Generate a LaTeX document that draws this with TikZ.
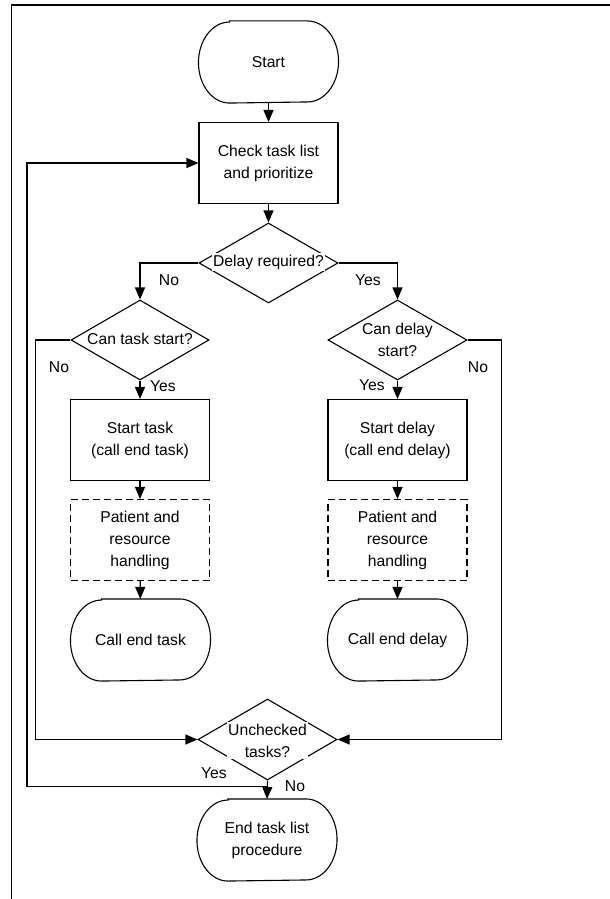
\documentclass[tikz,border=0pt]{standalone}
\usepackage{fontspec}
\setmainfont{Liberation Sans}
\usetikzlibrary{shapes.geometric,arrows.meta}
% outline of a terminal node: straight top and bottom, half-ellipse ends
\newcommand\termoutline[1]{%
  \draw[outline] ([xshift=31pt]#1.north west) -- ([xshift=-31pt]#1.north east)
    arc[start angle=90, end angle=-90, x radius=31pt, y radius=40.5pt]
    -- ([xshift=31pt]#1.south west)
    arc[start angle=270, end angle=90, x radius=31pt, y radius=40.5pt] -- cycle;}
\begin{document}
\begin{tikzpicture}[x=1pt,y=-1pt,
  every node/.style={font=\fontsize{15.7}{22}\selectfont},
  outline/.style={line width=1.1pt},
  base/.style={outline, minimum width=139pt, minimum height=81pt, inner sep=0pt, align=center},
  procbox/.style={base, draw, rectangle},
  dashbox/.style={base, draw, rectangle, dash pattern=on 7pt off 4pt},
  termbox/.style={base, rectangle},
  decbox/.style={draw, diamond, outline, minimum width=139pt, minimum height=80pt, inner sep=0pt},
  dectext/.style={fill=white, inner sep=1.5pt, align=center},
  lbl/.style={inner sep=0pt},
  arr/.style={line width=1.1pt, -{Triangle[length=12pt,width=10pt]}},
  frame/.style={line width=1.6pt}
]
\useasboundingbox (0,0) rectangle (610,899);

% outer frame (top and left edges only)
\draw[frame] (11.5,899) -- (11.5,5) -- (610,5);

% main column
\node[termbox] (start) at (268.5,62) {Start};
\termoutline{start}
\node[procbox] (check) at (268.5,163) {Check task list\\and prioritize};
\node[decbox] (delay) at (268.5,263) {};
\node[dectext] (delaytxt) at (268.5,262) {Delay required?};

% task branch
\node[decbox, minimum width=138pt] (cantask) at (140,340) {};
\node[dectext] (cantasktxt) at (140,339) {Can task start?};
\node[procbox] (starttask) at (140,440) {Start task\\(call end task)};
\node[dashbox] (pattask) at (140,540) {Patient and\\resource\\handling};
\node[termbox] (endtask) at (140.5,640) {Call end task};
\termoutline{endtask}

% delay branch
\node[decbox] (candelay) at (397.5,340) {};
\node[dectext] (candelaytxt) at (397.5,340) {Can delay\\start?};
\node[procbox] (startdelay) at (397.5,440) {Start delay\\(call end delay)};
\node[dashbox] (patdelay) at (397.5,540) {Patient and\\resource\\handling};
\node[termbox] (enddelay) at (397.5,640) {Call end delay};
\termoutline{enddelay}

% merge and end
\node[decbox, minimum height=81pt] (unch) at (267.5,739.5) {};
\node[dectext] (unchtxt) at (267.5,740.5) {Unchecked\\tasks?};
\node[termbox] (endproc) at (267,840) {End task list\\procedure};
\termoutline{endproc}

% connectors
\draw[arr] (start) -- (check);
\draw[arr] (check) -- (delay);
\draw[arr] (delay.west) -| (cantask.north);
\draw[arr] (delay.east) -| (candelay.north);
\draw[arr] (cantask) -- (starttask);
\draw[arr] (starttask) -- (pattask);
\draw[arr] (pattask) -- (endtask);
\draw[arr] (candelay) -- (startdelay);
\draw[arr] (startdelay) -- (patdelay);
\draw[arr] (patdelay) -- (enddelay);
\draw[arr] (cantask.west) -- ++(-35,0) |- (unch.west);
\draw[arr] (candelay.east) -- ++(34,0) |- (unch.east);
\draw[arr] (unch.south) -- (endproc.north);
\path (unch.south) ++(0,6) coordinate (yesjoin);
\draw[arr] (yesjoin) -- ++(-240.5,0) |- (check.west);

% branch labels
\node[lbl] at (169,280) {No};
\node[lbl] at (368,280) {Yes};
\node[lbl] at (59,367) {No};
\node[lbl] at (478,367) {No};
\node[lbl] at (163,386) {Yes};
\node[lbl] at (372,385) {Yes};
\node[lbl] at (214,773) {Yes};
\node[lbl] at (295,786) {No};
\end{tikzpicture}
\end{document}
